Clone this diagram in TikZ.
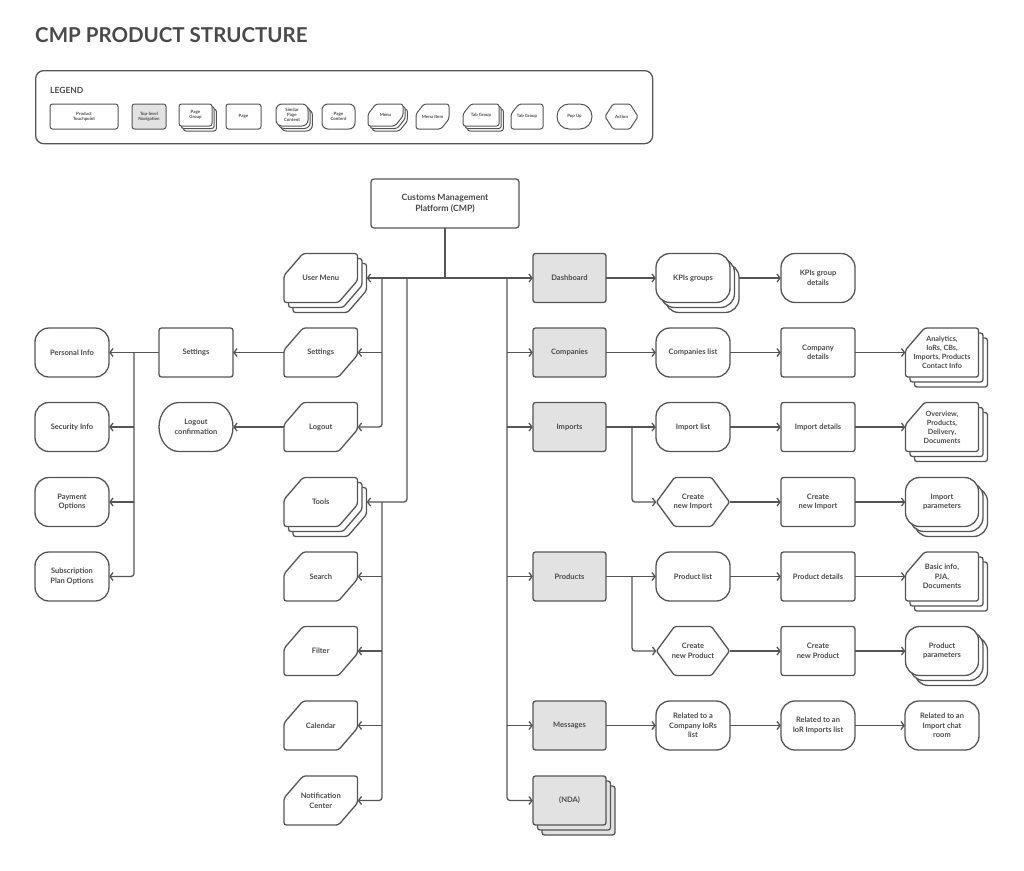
\documentclass[tikz,border=0pt]{standalone}
\usepackage{fontspec}
\setmainfont{Lato}
\usetikzlibrary{arrows.meta}
\definecolor{ln}{HTML}{555555}
\definecolor{tx}{HTML}{4A4A4A}
\definecolor{nav}{HTML}{E2E2E2}

\newcommand\shprect[1]{\draw[#1,rounded corners=2.5pt] (-\shA,-\shB) rectangle (\shA,\shB);}
\newcommand\shpround[1]{\draw[#1,rounded corners=\shR pt] (-\shA,-\shB) rectangle (\shA,\shB);}
\newcommand\shpmenu[1]{\draw[#1,rounded corners=2.5pt] (-\shA+\shC,\shB) -- (\shA,\shB) -- (\shA,-\shB+\shD) -- (\shA-\shC,-\shB) -- (-\shA,-\shB) -- (-\shA,\shB-\shD) -- cycle;}
\newcommand\shptab[1]{\draw[#1,rounded corners=2.5pt] (-\shA+\shC,\shB) -- (\shA,\shB) -- (\shA,-\shB) -- (-\shA,-\shB) -- (-\shA,\shB-\shD) -- cycle;}
\newcommand\shphex[1]{\draw[#1,rounded corners=1.5pt] (-\shA+\shC,\shB) -- (\shA-\shC,\shB) -- (\shA,0) -- (\shA-\shC,-\shB) -- (-\shA+\shC,-\shB) -- (-\shA,0) -- cycle;}
\newcommand\shppop[1]{\draw[#1] (-\shA+\shX,\shB) -- (\shA-\shX,\shB) arc[start angle=90,end angle=-90,x radius=\shX,y radius=\shB] -- (-\shA+\shX,-\shB) arc[start angle=270,end angle=90,x radius=\shX,y radius=\shB] -- cycle;}

% #1 name #2 type #3 x #4 y #5 w #6 h #7 fill #8 stack layers #9 text
\newcommand\elem[9]{%
  \pgfmathsetmacro\shA{#5/2}%
  \pgfmathsetmacro\shB{#6/2}%
  \ifnum#8>0
    \foreach \k in {#8,...,1}{%
      \begin{scope}[shift={({#3+\k*\stX},{#4-\k*\stY})}]\csname shp#2\endcsname{shp,fill=#7}\end{scope}}%
  \fi
  \begin{scope}[shift={(#3,#4)}]\csname shp#2\endcsname{shp,fill=#7}\end{scope}%
  \node[txt,minimum width=#5pt,minimum height=#6pt] (#1) at (#3,#4) {#9};%
}

\begin{document}
\begin{tikzpicture}[x=1pt,y=1pt,
  shp/.style={draw=ln,line width=1.3pt},
  txt/.style={inner sep=0pt,align=center,text=tx,font=\fontsize{7.5}{9.5}\selectfont\bfseries},
  arr/.style={draw=ln,line width=1.3pt,rounded corners=3pt,-{Straight Barb[length=3pt,width=8pt]}},
  plain/.style={draw=ln,line width=1.3pt}]
\useasboundingbox (0,0) rectangle (1024,-870);

\node[anchor=base west,inner sep=0pt,text=tx,font=\fontsize{20.5}{24}\selectfont\bfseries] (title) at (35,-42) {CMP PRODUCT STRUCTURE};

% legend
\node[draw=ln,line width=1.3pt,rounded corners=8pt,minimum width=617pt,minimum height=73pt,inner sep=0pt,anchor=north west] (legend) at (35,-70) {};
\node[anchor=base west,inner sep=0pt,text=tx,font=\fontsize{8.5}{10}\selectfont\bfseries] (legendtitle) at (50,-93) {LEGEND};
\begin{scope}[shp/.style={draw=ln,line width=1pt},txt/.style={inner sep=0pt,align=center,text=tx,font=\fontsize{4.4}{5.2}\selectfont\bfseries}]
\def\stX{2.2}\def\stY{2.5}\def\shC{8}\def\shD{10}\def\shR{6}\def\shX{12}
\elem{lg1}{rect}{84}{-116.5}{68}{25}{white}{0}{Product\\Touchpoint}
\elem{lg2}{rect}{149}{-116.5}{34}{25}{nav}{0}{Top-level\\Navigation}
\elem{lg3}{rect}{195.5}{-115}{33}{22}{white}{2}{Page\\Group}
\elem{lg4}{rect}{243.5}{-116.5}{35}{25}{white}{0}{Page}
\elem{lg5}{round}{292}{-115}{32}{22}{white}{2}{Similar\\Page\\Content}
\elem{lg6}{round}{338.5}{-116.5}{33}{25}{white}{0}{Page\\Content}
\elem{lg7}{menu}{385.5}{-115}{35}{22}{white}{2}{Menu}
\elem{lg8}{menu}{432.5}{-116.5}{33}{25}{white}{0}{Menu Item}
\elem{lg9}{tab}{481}{-115}{36}{22}{white}{2}{Tab Group}
\elem{lg10}{tab}{527}{-116.5}{32}{25}{white}{0}{Tab Group}
\elem{lg11}{pop}{574.5}{-116.5}{35}{25}{white}{0}{Pop Up}
\elem{lg12}{hex}{621.5}{-116.5}{33}{25}{white}{0}{Action}
\end{scope}

% main
\def\stX{4.5}\def\stY{5}\def\shC{19}\def\shD{22}\def\shR{14}\def\shX{20}
\draw[shp,fill=white,rounded corners=3pt] (371,-179) rectangle (519,-228);
\node[txt,font=\fontsize{8.7}{10.7}\selectfont\bfseries,minimum width=148pt,minimum height=49pt] (cmp) at (445,-203.5) {Customs Management\\Platform (CMP)};

\elem{um}{menu}{320.75}{-278}{73.5}{49}{white}{2}{User Menu}
\elem{setm}{menu}{320.75}{-352.5}{73.5}{49}{white}{0}{Settings}
\elem{logout}{menu}{320.75}{-427}{73.5}{49}{white}{0}{Logout}
\elem{tools}{menu}{320.75}{-502}{73.5}{49}{white}{2}{Tools}
\elem{search}{menu}{320.75}{-576.5}{73.5}{49}{white}{0}{Search}
\elem{filter}{menu}{320.75}{-651}{73.5}{49}{white}{0}{Filter}
\elem{cal}{menu}{320.75}{-725.5}{73.5}{49}{white}{0}{Calendar}
\elem{notif}{menu}{320.75}{-800.5}{73.5}{49}{white}{0}{Notification\\Center}

\elem{settings}{rect}{196}{-352.5}{74}{49}{white}{0}{Settings}
\elem{logoutconf}{pop}{196}{-427}{74}{49}{white}{0}{Logout\\confirmation}

\elem{personal}{round}{72}{-352.5}{74}{49}{white}{0}{Personal Info}
\elem{security}{round}{72}{-427}{74}{49}{white}{0}{Security Info}
\elem{payment}{round}{72}{-502}{74}{49}{white}{0}{Payment\\Options}
\elem{sub}{round}{72}{-576.5}{74}{49}{white}{0}{Subscription\\Plan Options}

\elem{dash}{rect}{569.5}{-278}{73}{49}{nav}{0}{Dashboard}
\elem{comp}{rect}{569.5}{-352.5}{73}{49}{nav}{0}{Companies}
\elem{imp}{rect}{569.5}{-427}{73}{49}{nav}{0}{Imports}
\elem{prod}{rect}{569.5}{-576.5}{73}{49}{nav}{0}{Products}
\elem{msg}{rect}{569.5}{-725.5}{73}{49}{nav}{0}{Messages}
\elem{nda}{rect}{569.5}{-800.5}{73}{49}{nav}{2}{(NDA)}

\elem{kpi}{round}{693}{-278}{74}{49}{white}{2}{KPIs groups}
\elem{complist}{round}{693}{-352.5}{74}{49}{white}{0}{Companies list}
\elem{implist}{round}{693}{-427}{74}{49}{white}{0}{Import list}
\def\shC{18}
\elem{cni}{hex}{693}{-502}{73}{49}{white}{0}{Create\\new Import}
\elem{cnp}{hex}{693}{-651}{73}{49}{white}{0}{Create\\new Product}
\def\shC{19}
\elem{prodlist}{round}{693}{-576.5}{74}{49}{white}{0}{Product list}
\elem{rel1}{round}{693}{-725.5}{74}{49}{white}{0}{Related to a\\Company IoRs\\list}

\elem{kpid}{round}{818}{-278}{74}{49}{white}{0}{KPIs group\\details}
\elem{compdet}{rect}{818}{-352.5}{74}{49}{white}{0}{Company\\details}
\elem{impdet}{rect}{818}{-427}{74}{49}{white}{0}{Import details}
\elem{cnimp}{rect}{818}{-502}{74}{49}{white}{0}{Create\\new Import}
\elem{proddet}{rect}{818}{-576.5}{74}{49}{white}{0}{Product details}
\elem{cnprod}{rect}{818}{-651}{74}{49}{white}{0}{Create\\new Product}
\elem{rel2}{round}{818}{-725.5}{74}{49}{white}{0}{Related to an\\IoR Imports list}

\begin{scope}[txt/.style={inner sep=0pt,align=center,text=tx,font=\fontsize{7.2}{9}\selectfont\bfseries}]
\elem{analytics}{tab}{942}{-352.5}{73}{49}{white}{2}{Analytics,\\IoRs, CBs,\\Imports, Products\\Contact Info}
\elem{overview}{tab}{942}{-427}{73}{49}{white}{2}{Overview,\\Products,\\Delivery,\\Documents}
\end{scope}
\elem{impparam}{round}{942}{-502}{73}{49}{white}{2}{Import\\parameters}
\elem{basic}{tab}{942}{-576.5}{73}{49}{white}{2}{Basic info,\\PJA,\\Documents}
\elem{prodparam}{round}{942}{-651}{73}{49}{white}{2}{Product\\parameters}
\elem{rel3}{round}{942}{-725.5}{74}{49}{white}{0}{Related to an\\Import chat\\room}

% connectors
\coordinate (j0) at (cmp.south |- um.east);
\draw[plain] (cmp.south) -- (j0);
\draw[arr] (j0) -- ([xshift=9pt]um.east);
\draw[arr] (j0) -- (dash.west);
\coordinate (jL1) at (382,-278);
\coordinate (jL2) at (407,-278);
\coordinate (jR) at (507,-278);
\draw[arr] (jL1) |- (logout.east);
\draw[arr] (jL1 |- setm.east) -- (setm.east);
\draw[arr] (jL2) |- ([xshift=9pt]tools.east);
\coordinate (jT) at (jL1 |- tools.east);
\draw[arr] (jT) |- (notif.east);
\draw[arr] (jT |- search.east) -- (search.east);
\draw[arr] (jT |- filter.east) -- (filter.east);
\draw[arr] (jT |- cal.east) -- (cal.east);
\draw[arr] (jR) |- (nda.west);
\draw[arr] (jR |- comp.west) -- (comp.west);
\draw[arr] (jR |- imp.west) -- (imp.west);
\draw[arr] (jR |- prod.west) -- (prod.west);
\draw[arr] (jR |- msg.west) -- (msg.west);

\draw[arr] (setm.west) -- (settings.east);
\draw[arr] (logout.west) -- (logoutconf.east);
\draw[arr] (settings.west) -- (personal.east);
\coordinate (jS) at (134,-352.5);
\draw[arr] (jS) |- (sub.east);
\draw[arr] (jS |- security.east) -- (security.east);
\draw[arr] (jS |- payment.east) -- (payment.east);

\draw[arr] (dash.east) -- (kpi.west);
\draw[arr] ([xshift=9pt]kpi.east) -- (kpid.west);
\draw[arr] (comp.east) -- (complist.west);
\draw[arr] (complist.east) -- (compdet.west);
\draw[arr] (compdet.east) -- (analytics.west);
\draw[arr] (imp.east) -- (implist.west);
\draw[arr] (implist.east) -- (impdet.west);
\draw[arr] (impdet.east) -- (overview.west);
\coordinate (jI) at (632,-427);
\draw[arr] (jI) |- (cni.west);
\draw[arr] (cni.east) -- (cnimp.west);
\draw[arr] (cnimp.east) -- (impparam.west);
\draw[arr] (prod.east) -- (prodlist.west);
\draw[arr] (prodlist.east) -- (proddet.west);
\draw[arr] (proddet.east) -- (basic.west);
\coordinate (jP) at (632,-576.5);
\draw[arr] (jP) |- (cnp.west);
\draw[arr] (cnp.east) -- (cnprod.west);
\draw[arr] (cnprod.east) -- (prodparam.west);
\draw[arr] (msg.east) -- (rel1.west);
\draw[arr] (rel1.east) -- (rel2.west);
\draw[arr] (rel2.east) -- (rel3.west);
\end{tikzpicture}
\end{document}
